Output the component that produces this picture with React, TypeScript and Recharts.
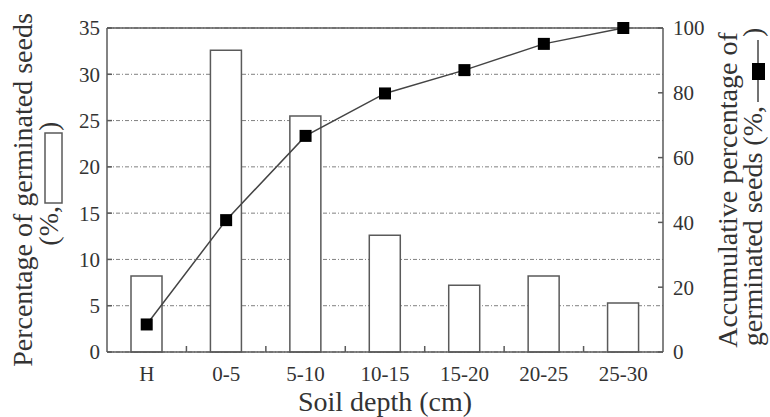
import { ComposedChart, Bar, Line, XAxis, YAxis, CartesianGrid, ReferenceLine } from 'recharts';

const depths = ['H', '0-5', '5-10', '10-15', '15-20', '20-25', '25-30'];
const germinated = [8.2, 32.6, 25.5, 12.6, 7.2, 8.2, 5.3];
const accumulated = [8.5, 40.7, 66.7, 79.8, 87.0, 95.1, 100];
const leftTicks = [0, 5, 10, 15, 20, 25, 30, 35];
const rightTicks = [0, 20, 40, 60, 80, 100];

const data = depths.map((depth, i) => ({ depth, pct: germinated[i], cum: accumulated[i] }));

const FONT = 'Liberation Serif, DejaVu Serif, serif';
const AXIS = '#5a5a5a';
const TEXT = '#333';
const CHART_W = 770;
const CHART_H = 417;
const Y_AXIS_W = 107;
const X_TICK_MARGIN = 14;
const BAND = (CHART_W - 2 * Y_AXIS_W) / depths.length;

const SquareDot = ({ cx, cy }: any) => {
  if (cx == null || cy == null) return null;
  return <rect x={cx - 6} y={cy - 6} width={12} height={12} fill="#000" />;
};

// category label plus the small inward tick on the boundary to its left
const DepthTick = ({ x, y, payload }: any) => {
  const idx = depths.indexOf(payload?.value);
  const axisY = Number(y) - X_TICK_MARGIN;
  const bx = Number(x) - BAND / 2;
  return (
    <g>
      {idx > 0 && <line x1={bx} x2={bx} y1={axisY} y2={axisY - 6} stroke={AXIS} strokeWidth={1.5} />}
      <text x={x} y={y} dy="0.71em" textAnchor="middle" fill={TEXT} style={{ fontFamily: FONT, fontSize: 21 }}>
        {payload?.value}
      </text>
    </g>
  );
};

const LeftTitle = ({ viewBox }: any) => {
  const cy = viewBox.y + viewBox.height / 2;
  return (
    <g fill={TEXT} style={{ fontFamily: FONT, fontSize: 28 }}>
      <text transform={`translate(32, ${cy}) rotate(-90)`} textAnchor="middle">
        Percentage of germinated seeds
      </text>
      <g transform={`translate(58, ${cy}) rotate(-90)`}>
        <text x={-16} textAnchor="end">(%,</text>
        <rect x={-13} y={-13} width={70} height={17} fill="#fff" stroke={AXIS} strokeWidth={1.5} />
        <text x={59}>)</text>
      </g>
    </g>
  );
};

const RightTitle = ({ viewBox }: any) => {
  const cy = viewBox.y + viewBox.height / 2;
  return (
    <g fill={TEXT} style={{ fontFamily: FONT, fontSize: 28 }}>
      <text transform={`translate(737, ${cy}) rotate(-90)`} textAnchor="middle">
        Accumulative percentage of
      </text>
      <g transform={`translate(762, ${cy}) rotate(-90)`}>
        <text x={84} textAnchor="end">germinated seeds (%,</text>
        <line x1={88} x2={150} y1={-4} y2={-4} stroke="#444" strokeWidth={1.5} />
        <rect x={110} y={-10} width={17} height={13} fill="#000" />
        <text x={153}>)</text>
      </g>
    </g>
  );
};

const BottomTitle = ({ viewBox }: any) => (
  <text
    x={viewBox.x + viewBox.width / 2}
    y={411}
    textAnchor="middle"
    fill={TEXT}
    style={{ fontFamily: FONT, fontSize: 28 }}
  >
    Soil depth (cm)
  </text>
);

const tickStyle = { fill: TEXT, fontSize: 21, fontFamily: FONT, style: { fontFamily: FONT } };

export default function App() {
  return (
    <div style={{ position: 'absolute', left: 0, top: 0, background: '#fff', fontFamily: FONT }}>
      <ComposedChart width={CHART_W} height={CHART_H} data={data} margin={{ top: 28, right: 0, bottom: 0, left: 0 }}>
        <CartesianGrid
          yAxisId="left"
          xAxisId="cat"
          vertical={false}
          stroke="#808080"
          strokeDasharray="4 2 1 2"
        />
        <XAxis
          xAxisId="cat"
          dataKey="depth"
          height={65}
          tickLine={false}
          tickSize={0}
          tickMargin={X_TICK_MARGIN}
          tick={(p: any) => <DepthTick {...p} />}
          axisLine={{ stroke: AXIS, strokeWidth: 1.5 }}
          interval={0}
          label={{ content: (p: any) => <BottomTitle {...p} /> }}
        />
        <YAxis
          yAxisId="left"
          orientation="left"
          width={Y_AXIS_W}
          domain={[0, 35]}
          ticks={leftTicks}
          interval={0}
          tickSize={-5}
          tickMargin={12}
          tick={tickStyle}
          axisLine={{ stroke: AXIS, strokeWidth: 1.5 }}
          tickLine={{ stroke: AXIS, strokeWidth: 1.5 }}
          label={{ content: (p: any) => <LeftTitle {...p} /> }}
        />
        <YAxis
          yAxisId="right"
          orientation="right"
          width={Y_AXIS_W}
          domain={[0, 100]}
          ticks={rightTicks}
          interval={0}
          tickSize={-5}
          tickMargin={15}
          tick={tickStyle}
          axisLine={{ stroke: AXIS, strokeWidth: 1.5 }}
          tickLine={{ stroke: AXIS, strokeWidth: 1.5 }}
          label={{ content: (p: any) => <RightTitle {...p} /> }}
        />
        <ReferenceLine yAxisId="left" xAxisId="cat" y={35} stroke={AXIS} strokeWidth={1.5} />
        <Bar
          yAxisId="left"
          xAxisId="cat"
          dataKey="pct"
          barSize={31}
          fill="#fff"
          stroke={AXIS}
          strokeWidth={1.5}
          isAnimationActive={false}
        />
        <Line
          yAxisId="right"
          xAxisId="cat"
          dataKey="cum"
          stroke="#444"
          strokeWidth={1.5}
          dot={<SquareDot />}
          activeDot={false}
          isAnimationActive={false}
        />
      </ComposedChart>
    </div>
  );
}
